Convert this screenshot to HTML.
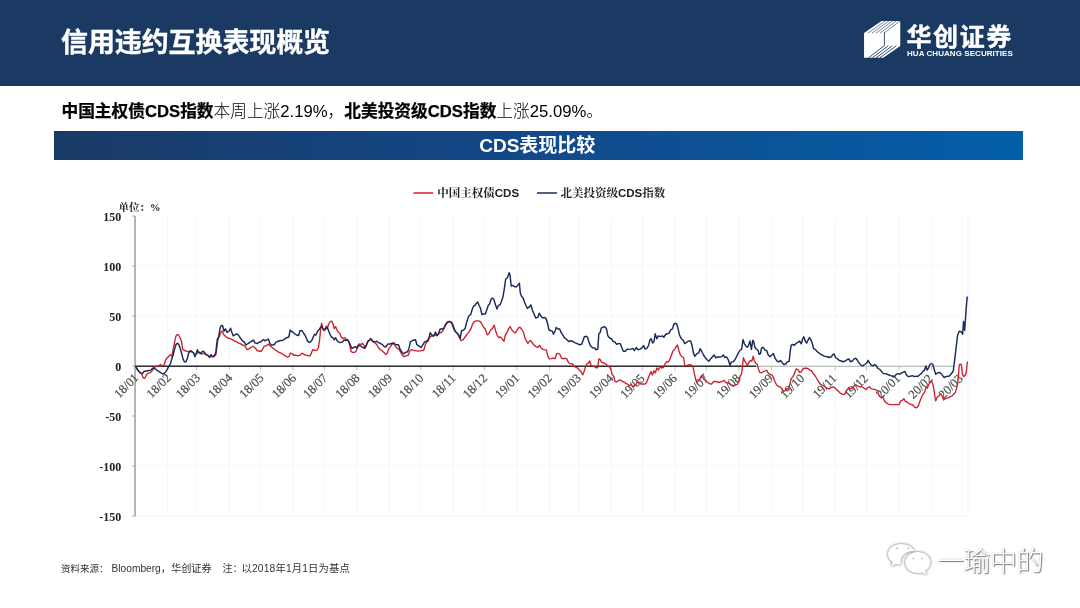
<!DOCTYPE html>
<html lang="zh-CN">
<head>
<meta charset="utf-8">
<title>信用违约互换表现概览</title>
<style>
html,body{margin:0;padding:0;background:#fff;}
body{width:1080px;height:608px;position:relative;overflow:hidden;font-family:"Liberation Sans","Noto Sans CJK SC",sans-serif;}
.hdr{position:absolute;left:0;top:0;width:1080px;height:86px;background:#1a3963;}
.title{position:absolute;left:61px;top:23.5px;font-size:27px;line-height:38px;font-weight:bold;color:#fff;letter-spacing:-0.1px;-webkit-text-stroke:0.35px #fff;white-space:nowrap;}
.logo-cn{position:absolute;left:906.5px;top:19.6px;font-size:25px;line-height:34px;font-weight:bold;color:#fff;white-space:nowrap;letter-spacing:1.6px;-webkit-text-stroke:0.4px #fff;}
.logo-en{position:absolute;left:907px;top:48.5px;font-size:8px;line-height:10px;font-weight:bold;color:#fff;white-space:nowrap;letter-spacing:0.06px;}
.sum{position:absolute;left:61.5px;top:99.5px;font-size:16.7px;line-height:24px;color:#111;white-space:nowrap;letter-spacing:0px;}
.sum b{font-weight:bold;color:#000;-webkit-text-stroke:0.25px #000;}
.sum span{font-weight:300;color:#000;}
.band{position:absolute;left:54px;top:130.7px;width:968.5px;height:29.3px;background:linear-gradient(90deg,#1a3a66 0%,#12498a 50%,#035fa9 100%);}
.band div{position:absolute;left:-2px;right:0;top:2px;text-align:center;font-size:19px;line-height:25px;font-weight:bold;color:#fff;letter-spacing:0;}
.chart{position:absolute;left:0;top:0;}
.xl{font-family:"Liberation Serif","Noto Serif CJK SC",serif;font-size:12.5px;fill:#4a4a4a;stroke:#4a4a4a;stroke-width:0.2px;}
.yl{font-family:"Liberation Serif","Noto Serif CJK SC",serif;font-size:12px;font-weight:bold;fill:#222;}
.lg{font-family:"Liberation Sans","Noto Serif CJK SC",serif;font-size:11.5px;font-weight:bold;fill:#222;}
.unit{font-family:"Liberation Serif","Noto Serif CJK SC",serif;font-size:10.5px;font-weight:bold;fill:#222;}
.src{position:absolute;left:61px;top:562px;font-size:9.5px;line-height:14px;color:#333;white-space:nowrap;}
.src span{position:absolute;top:0;}
.wm{position:absolute;left:937px;top:546px;font-size:27px;line-height:32px;color:#fff;white-space:nowrap;text-shadow:1px 1px 1px #777,0 0 2px #bbb;font-weight:300;letter-spacing:-0.5px;}
</style>
</head>
<body>
<div class="hdr"></div>
<div class="title">信用违约互换表现概览</div>
<div class="logo-cn">华创证券</div>
<div class="logo-en">HUA CHUANG SECURITIES</div>
<div class="sum"><b>中国主权债CDS指数</b><span>本周上涨2.19%，</span><b>北美投资级CDS指数</b><span>上涨25.09%。</span></div>
<div class="band"><div>CDS表现比较</div></div>
<svg class="chart" width="1080" height="608" viewBox="0 0 1080 608">
<polygon points="864.05,33.00 881.43,21.05 900.25,21.05 900.25,45.94 883.24,57.70 864.05,57.70" fill="#fff"/>
<line x1="868.03" y1="33.18" x2="885.19" y2="20.87" stroke="#4f668c" stroke-width="0.8"/>
<line x1="872.01" y1="33.18" x2="888.95" y2="20.87" stroke="#4f668c" stroke-width="0.8"/>
<line x1="876.00" y1="33.18" x2="892.72" y2="20.87" stroke="#4f668c" stroke-width="0.8"/>
<line x1="879.98" y1="33.18" x2="896.48" y2="20.87" stroke="#4f668c" stroke-width="0.8"/>
<line x1="883.96" y1="33.18" x2="900.25" y2="20.87" stroke="#4f668c" stroke-width="0.8"/>
<line x1="884.14" y1="45.76" x2="868.57" y2="57.88" stroke="#1a3963" stroke-width="0.9"/>
<line x1="888.21" y1="45.76" x2="872.29" y2="57.88" stroke="#1a3963" stroke-width="0.9"/>
<line x1="892.29" y1="45.76" x2="876.00" y2="57.88" stroke="#1a3963" stroke-width="0.9"/>
<line x1="896.36" y1="45.76" x2="879.71" y2="57.88" stroke="#1a3963" stroke-width="0.9"/>
<line x1="884.41" y1="32.36" x2="884.41" y2="45.67" stroke="#16243f" stroke-width="0.8"/>
<line x1="167.4" y1="216" x2="167.4" y2="516" stroke="#f8f5f8" stroke-width="1"/>
<line x1="196.7" y1="216" x2="196.7" y2="516" stroke="#f8f5f8" stroke-width="1"/>
<line x1="229.2" y1="216" x2="229.2" y2="516" stroke="#f8f5f8" stroke-width="1"/>
<line x1="260.6" y1="216" x2="260.6" y2="516" stroke="#f8f5f8" stroke-width="1"/>
<line x1="293.0" y1="216" x2="293.0" y2="516" stroke="#f8f5f8" stroke-width="1"/>
<line x1="324.4" y1="216" x2="324.4" y2="516" stroke="#f8f5f8" stroke-width="1"/>
<line x1="356.9" y1="216" x2="356.9" y2="516" stroke="#f8f5f8" stroke-width="1"/>
<line x1="389.3" y1="216" x2="389.3" y2="516" stroke="#f8f5f8" stroke-width="1"/>
<line x1="420.7" y1="216" x2="420.7" y2="516" stroke="#f8f5f8" stroke-width="1"/>
<line x1="453.2" y1="216" x2="453.2" y2="516" stroke="#f8f5f8" stroke-width="1"/>
<line x1="484.6" y1="216" x2="484.6" y2="516" stroke="#f8f5f8" stroke-width="1"/>
<line x1="517.0" y1="216" x2="517.0" y2="516" stroke="#f8f5f8" stroke-width="1"/>
<line x1="549.5" y1="216" x2="549.5" y2="516" stroke="#f8f5f8" stroke-width="1"/>
<line x1="578.8" y1="216" x2="578.8" y2="516" stroke="#f8f5f8" stroke-width="1"/>
<line x1="611.2" y1="216" x2="611.2" y2="516" stroke="#f8f5f8" stroke-width="1"/>
<line x1="642.6" y1="216" x2="642.6" y2="516" stroke="#f8f5f8" stroke-width="1"/>
<line x1="675.0" y1="216" x2="675.0" y2="516" stroke="#f8f5f8" stroke-width="1"/>
<line x1="706.4" y1="216" x2="706.4" y2="516" stroke="#f8f5f8" stroke-width="1"/>
<line x1="738.9" y1="216" x2="738.9" y2="516" stroke="#f8f5f8" stroke-width="1"/>
<line x1="771.3" y1="216" x2="771.3" y2="516" stroke="#f8f5f8" stroke-width="1"/>
<line x1="802.7" y1="216" x2="802.7" y2="516" stroke="#f8f5f8" stroke-width="1"/>
<line x1="835.2" y1="216" x2="835.2" y2="516" stroke="#f8f5f8" stroke-width="1"/>
<line x1="866.6" y1="216" x2="866.6" y2="516" stroke="#f8f5f8" stroke-width="1"/>
<line x1="899.0" y1="216" x2="899.0" y2="516" stroke="#f8f5f8" stroke-width="1"/>
<line x1="931.5" y1="216" x2="931.5" y2="516" stroke="#f8f5f8" stroke-width="1"/>
<line x1="961.8" y1="216" x2="961.8" y2="516" stroke="#f8f5f8" stroke-width="1"/>
<line x1="968" y1="216" x2="968" y2="516" stroke="#f4f0f4" stroke-width="1"/>
<line x1="135" y1="216" x2="968" y2="216" stroke="#f9f6f9" stroke-width="1"/>
<line x1="135" y1="266" x2="968" y2="266" stroke="#f9f6f9" stroke-width="1"/>
<line x1="135" y1="316" x2="968" y2="316" stroke="#f9f6f9" stroke-width="1"/>
<line x1="135" y1="366" x2="968" y2="366" stroke="#f9f6f9" stroke-width="1"/>
<line x1="135" y1="416" x2="968" y2="416" stroke="#f9f6f9" stroke-width="1"/>
<line x1="135" y1="466" x2="968" y2="466" stroke="#f9f6f9" stroke-width="1"/>
<line x1="135" y1="516" x2="968" y2="516" stroke="#f9f6f9" stroke-width="1"/>
<line x1="135" y1="516.5" x2="968" y2="516.5" stroke="#fcf3fb" stroke-width="1.5"/>
<line x1="135.05" y1="216" x2="135.05" y2="516" stroke="#8f8f8f" stroke-width="1.3"/>
<line x1="132.3" y1="216" x2="135" y2="216" stroke="#a0a0a0" stroke-width="1"/>
<line x1="132.3" y1="266" x2="135" y2="266" stroke="#a0a0a0" stroke-width="1"/>
<line x1="132.3" y1="316" x2="135" y2="316" stroke="#a0a0a0" stroke-width="1"/>
<line x1="132.3" y1="366" x2="135" y2="366" stroke="#a0a0a0" stroke-width="1"/>
<line x1="132.3" y1="416" x2="135" y2="416" stroke="#a0a0a0" stroke-width="1"/>
<line x1="132.3" y1="466" x2="135" y2="466" stroke="#a0a0a0" stroke-width="1"/>
<line x1="132.3" y1="516" x2="135" y2="516" stroke="#a0a0a0" stroke-width="1"/>
<line x1="135" y1="366.3" x2="954" y2="366.3" stroke="#bdbdbd" stroke-width="1.2"/>
<line x1="135.0" y1="366" x2="135.0" y2="370" stroke="#bdbdbd" stroke-width="1"/>
<line x1="167.4" y1="366" x2="167.4" y2="370" stroke="#bdbdbd" stroke-width="1"/>
<line x1="196.7" y1="366" x2="196.7" y2="370" stroke="#bdbdbd" stroke-width="1"/>
<line x1="229.2" y1="366" x2="229.2" y2="370" stroke="#bdbdbd" stroke-width="1"/>
<line x1="260.6" y1="366" x2="260.6" y2="370" stroke="#bdbdbd" stroke-width="1"/>
<line x1="293.0" y1="366" x2="293.0" y2="370" stroke="#bdbdbd" stroke-width="1"/>
<line x1="324.4" y1="366" x2="324.4" y2="370" stroke="#bdbdbd" stroke-width="1"/>
<line x1="356.9" y1="366" x2="356.9" y2="370" stroke="#bdbdbd" stroke-width="1"/>
<line x1="389.3" y1="366" x2="389.3" y2="370" stroke="#bdbdbd" stroke-width="1"/>
<line x1="420.7" y1="366" x2="420.7" y2="370" stroke="#bdbdbd" stroke-width="1"/>
<line x1="453.2" y1="366" x2="453.2" y2="370" stroke="#bdbdbd" stroke-width="1"/>
<line x1="484.6" y1="366" x2="484.6" y2="370" stroke="#bdbdbd" stroke-width="1"/>
<line x1="517.0" y1="366" x2="517.0" y2="370" stroke="#bdbdbd" stroke-width="1"/>
<line x1="549.5" y1="366" x2="549.5" y2="370" stroke="#bdbdbd" stroke-width="1"/>
<line x1="578.8" y1="366" x2="578.8" y2="370" stroke="#bdbdbd" stroke-width="1"/>
<line x1="611.2" y1="366" x2="611.2" y2="370" stroke="#bdbdbd" stroke-width="1"/>
<line x1="642.6" y1="366" x2="642.6" y2="370" stroke="#bdbdbd" stroke-width="1"/>
<line x1="675.0" y1="366" x2="675.0" y2="370" stroke="#bdbdbd" stroke-width="1"/>
<line x1="706.4" y1="366" x2="706.4" y2="370" stroke="#bdbdbd" stroke-width="1"/>
<line x1="738.9" y1="366" x2="738.9" y2="370" stroke="#bdbdbd" stroke-width="1"/>
<line x1="771.3" y1="366" x2="771.3" y2="370" stroke="#bdbdbd" stroke-width="1"/>
<line x1="802.7" y1="366" x2="802.7" y2="370" stroke="#bdbdbd" stroke-width="1"/>
<line x1="835.2" y1="366" x2="835.2" y2="370" stroke="#bdbdbd" stroke-width="1"/>
<line x1="866.6" y1="366" x2="866.6" y2="370" stroke="#bdbdbd" stroke-width="1"/>
<line x1="899.0" y1="366" x2="899.0" y2="370" stroke="#bdbdbd" stroke-width="1"/>
<line x1="931.5" y1="366" x2="931.5" y2="370" stroke="#bdbdbd" stroke-width="1"/>
<line x1="961.8" y1="366" x2="961.8" y2="370" stroke="#bdbdbd" stroke-width="1"/>
<line x1="135" y1="366.2" x2="756" y2="366.2" stroke="#2e2e2e" stroke-width="1.5"/>
<text class="xl" transform="translate(139.3,378.5) rotate(-45)" text-anchor="end">18/01</text>
<text class="xl" transform="translate(171.7,378.5) rotate(-45)" text-anchor="end">18/02</text>
<text class="xl" transform="translate(200.9,378.6) rotate(-45)" text-anchor="end">18/03</text>
<text class="xl" transform="translate(233.2,378.6) rotate(-45)" text-anchor="end">18/04</text>
<text class="xl" transform="translate(264.5,378.6) rotate(-45)" text-anchor="end">18/05</text>
<text class="xl" transform="translate(296.9,378.7) rotate(-45)" text-anchor="end">18/06</text>
<text class="xl" transform="translate(328.2,378.7) rotate(-45)" text-anchor="end">18/07</text>
<text class="xl" transform="translate(360.5,378.7) rotate(-45)" text-anchor="end">18/08</text>
<text class="xl" transform="translate(392.9,378.7) rotate(-45)" text-anchor="end">18/09</text>
<text class="xl" transform="translate(424.2,378.8) rotate(-45)" text-anchor="end">18/10</text>
<text class="xl" transform="translate(456.5,378.8) rotate(-45)" text-anchor="end">18/11</text>
<text class="xl" transform="translate(487.9,378.8) rotate(-45)" text-anchor="end">18/12</text>
<text class="xl" transform="translate(520.2,378.9) rotate(-45)" text-anchor="end">19/01</text>
<text class="xl" transform="translate(552.6,378.9) rotate(-45)" text-anchor="end">19/02</text>
<text class="xl" transform="translate(581.8,378.9) rotate(-45)" text-anchor="end">19/03</text>
<text class="xl" transform="translate(614.1,379.0) rotate(-45)" text-anchor="end">19/04</text>
<text class="xl" transform="translate(645.4,379.0) rotate(-45)" text-anchor="end">19/05</text>
<text class="xl" transform="translate(677.8,379.0) rotate(-45)" text-anchor="end">19/06</text>
<text class="xl" transform="translate(709.1,379.1) rotate(-45)" text-anchor="end">19/07</text>
<text class="xl" transform="translate(741.4,379.1) rotate(-45)" text-anchor="end">19/08</text>
<text class="xl" transform="translate(773.8,379.1) rotate(-45)" text-anchor="end">19/09</text>
<text class="xl" transform="translate(805.1,379.1) rotate(-45)" text-anchor="end">19/10</text>
<text class="xl" transform="translate(837.5,379.2) rotate(-45)" text-anchor="end">19/11</text>
<text class="xl" transform="translate(868.8,379.2) rotate(-45)" text-anchor="end">19/12</text>
<text class="xl" transform="translate(901.1,379.2) rotate(-45)" text-anchor="end">20/01</text>
<text class="xl" transform="translate(933.5,379.3) rotate(-45)" text-anchor="end">20/02</text>
<text class="xl" transform="translate(963.7,379.3) rotate(-45)" text-anchor="end">20/03</text>
<text class="yl" x="121.2" y="220.8" text-anchor="end">150</text>
<text class="yl" x="121.2" y="270.8" text-anchor="end">100</text>
<text class="yl" x="121.2" y="320.8" text-anchor="end">50</text>
<text class="yl" x="121.2" y="370.8" text-anchor="end">0</text>
<text class="yl" x="121.2" y="420.8" text-anchor="end">-50</text>
<text class="yl" x="121.2" y="470.8" text-anchor="end">-100</text>
<text class="yl" x="121.2" y="520.8" text-anchor="end">-150</text>
<path d="M135.5 366.2 L137.6 370.1 L139.7 372.2 L141.8 374.3 L143.2 377.8 L144.6 378.5 L146.0 375.7 L147.4 373.6 L149.5 372.9 L151.6 371.5 L153.0 369.4 L154.4 367.3 L156.5 366.2 L158.6 365.9 L160.6 364.5 L162.0 365.9 L164.1 365.2 L165.5 360.3 L166.9 358.2 L169.0 356.1 L170.4 354.7 L171.8 356.1 L173.2 349.1 L174.6 342.2 L176.0 335.9 L177.4 334.5 L178.8 335.2 L180.2 338.0 L181.6 341.5 L182.6 349.1 L184.4 350.5 L186.5 351.2 L188.6 351.9 L190.7 350.5 L192.8 352.6 L194.9 354.7 L197.0 353.3 L199.1 351.9 L201.2 354.0 L203.3 353.3 L205.4 354.0 L207.5 355.4 L209.6 356.8 L211.7 356.1 L213.8 356.8 L215.9 354.7 L217.0 346.3 L218.0 339.4 L219.4 335.9 L220.8 332.4 L222.2 331.0 L223.6 334.5 L225.7 336.6 L227.8 338.0 L229.9 338.7 L231.9 339.4 L234.0 340.8 L236.1 341.5 L238.2 342.9 L240.3 343.6 L242.4 345.0 L244.5 345.6 L245.9 347.7 L247.3 349.8 L249.4 348.4 L251.5 347.0 L252.9 346.3 L255.0 347.7 L257.1 350.5 L259.2 351.2 L261.3 351.2 L262.7 349.1 L264.1 346.3 L266.2 345.6 L268.3 344.3 L270.4 346.3 L272.5 347.7 L274.8 349.6 L276.9 351.0 L279.0 352.4 L281.1 353.1 L283.2 354.5 L285.3 355.9 L287.4 357.0 L289.0 356.6 L290.4 353.1 L292.3 353.8 L293.7 355.2 L295.8 355.2 L297.9 355.9 L300.0 355.2 L302.0 353.1 L304.1 354.5 L306.2 355.2 L308.3 355.9 L310.0 355.9 L311.4 353.1 L312.8 349.6 L314.6 350.3 L316.7 350.3 L318.4 348.2 L319.5 340.5 L320.6 330.1 L321.6 323.1 L322.6 328.0 L323.7 330.8 L325.1 330.1 L326.2 325.9 L327.2 328.7 L328.6 324.5 L330.0 321.7 L331.8 321.2 L333.2 324.5 L334.2 328.7 L335.6 326.6 L337.0 330.1 L338.4 332.2 L339.8 333.6 L341.2 337.0 L342.6 338.4 L344.7 337.7 L346.1 339.1 L348.2 340.5 L349.6 344.7 L351.0 351.0 L352.4 352.4 L354.5 352.4 L356.2 351.0 L357.5 346.1 L358.9 344.0 L360.8 344.7 L362.2 343.3 L363.6 344.7 L365.0 347.5 L366.4 345.4 L367.8 341.9 L369.2 340.5 L370.6 338.4 L371.9 340.5 L373.3 341.9 L375.4 343.3 L376.8 344.7 L378.2 347.5 L380.3 349.6 L382.4 351.0 L384.5 353.1 L385.9 354.5 L387.3 353.1 L388.7 348.9 L390.8 346.1 L392.5 343.3 L393.9 342.6 L395.3 346.1 L397.1 348.2 L399.2 349.6 L400.9 352.4 L402.3 355.2 L404.1 356.6 L406.2 355.9 L408.3 355.2 L409.7 351.0 L411.8 349.6 L413.5 350.3 L417.6 351.1 L421.8 350.6 L423.9 350.0 L425.3 344.7 L426.7 341.9 L428.1 341.2 L429.5 337.7 L430.9 336.3 L432.3 335.6 L434.4 334.9 L436.5 335.6 L437.9 334.2 L439.3 332.1 L441.1 332.8 L442.7 330.7 L444.1 327.9 L445.5 324.4 L446.9 322.3 L449.0 321.3 L451.1 321.6 L453.2 325.1 L454.6 329.3 L456.0 332.1 L457.8 334.2 L459.5 337.7 L460.9 340.5 L463.0 339.8 L465.1 337.0 L467.2 334.2 L469.3 331.4 L471.0 328.6 L472.4 324.4 L474.2 321.6 L476.3 320.9 L478.4 320.9 L480.5 321.6 L481.9 324.4 L483.6 327.2 L485.4 329.3 L487.2 334.9 L488.9 333.5 L490.6 330.0 L492.4 328.6 L494.2 325.1 L495.6 330.7 L497.3 335.6 L498.9 337.7 L500.8 337.0 L502.2 339.1 L504.0 341.2 L505.4 334.9 L507.1 332.1 L508.7 328.6 L510.1 326.5 L511.9 330.0 L513.8 332.1 L515.4 332.8 L516.8 330.7 L518.5 327.9 L519.9 327.2 L521.7 329.3 L523.6 332.8 L524.9 337.7 L526.6 341.2 L528.0 343.3 L529.4 341.2 L530.8 340.5 L532.5 343.3 L534.3 345.4 L536.1 346.8 L537.8 347.5 L539.5 345.4 L541.3 348.2 L543.4 349.6 L545.0 349.8 L546.4 349.8 L547.8 356.1 L549.2 358.9 L551.3 358.7 L553.4 358.2 L555.1 358.7 L556.5 354.0 L558.3 353.3 L559.7 354.0 L561.5 358.2 L563.2 358.9 L564.9 358.2 L566.7 358.9 L568.5 362.4 L570.2 363.8 L572.3 363.8 L574.1 365.9 L575.8 367.3 L577.4 368.0 L579.3 370.1 L581.1 371.5 L582.7 375.0 L584.1 371.5 L585.5 366.6 L586.9 363.8 L588.3 363.1 L589.7 361.0 L590.9 365.2 L592.5 365.9 L594.6 366.6 L596.4 368.0 L597.8 367.3 L598.8 358.9 L600.2 359.6 L601.6 362.4 L603.7 362.8 L605.4 363.8 L607.2 365.2 L609.0 366.6 L610.7 368.7 L612.1 374.3 L613.8 376.4 L614.9 381.3 L616.6 382.0 L618.4 380.6 L620.5 379.9 L622.2 381.3 L624.0 382.0 L625.8 383.4 L627.5 384.1 L628.9 385.5 L630.6 384.8 L632.4 386.2 L634.5 386.2 L636.2 384.1 L637.5 381.3 L639.4 382.7 L641.2 384.1 L642.9 383.8 L645.0 384.1 L646.4 382.7 L647.8 379.2 L649.2 375.7 L651.0 371.5 L652.4 375.0 L654.0 370.8 L655.4 372.9 L656.8 368.0 L658.5 370.1 L659.9 366.6 L661.7 368.0 L663.6 367.3 L665.2 363.8 L666.6 361.7 L668.3 362.0 L670.1 358.9 L671.5 354.7 L672.9 351.2 L674.7 349.1 L676.4 346.3 L677.5 345.0 L678.9 350.5 L680.3 354.7 L682.0 356.8 L683.7 357.5 L684.8 365.9 L687.1 365.4 L689.2 364.7 L691.3 365.0 L693.1 366.8 L694.5 374.5 L695.9 380.1 L697.3 382.2 L699.0 380.1 L700.7 378.0 L702.5 375.9 L703.9 379.4 L705.7 380.4 L707.4 382.2 L709.5 383.6 L711.6 384.0 L713.7 381.5 L715.8 381.5 L717.9 382.2 L720.0 382.2 L722.0 381.5 L723.9 380.4 L725.5 382.2 L727.6 382.9 L729.5 383.6 L731.1 385.0 L733.2 385.7 L735.3 385.0 L737.4 384.3 L738.8 381.5 L740.2 375.9 L741.6 373.8 L742.6 364.7 L743.4 357.7 L744.8 361.2 L746.2 363.3 L747.6 365.4 L749.0 361.9 L750.4 360.5 L751.8 361.2 L753.2 356.3 L754.2 360.5 L755.6 363.3 L757.0 364.0 L758.4 368.9 L759.8 372.4 L761.6 372.8 L763.3 371.7 L765.0 371.0 L766.8 370.3 L768.2 373.1 L770.0 374.5 L772.0 374.8 L773.4 377.3 L774.8 381.5 L776.6 385.0 L778.4 386.4 L780.1 387.1 L781.7 388.5 L783.6 391.3 L785.4 390.6 L787.1 388.5 L788.5 389.2 L789.9 384.3 L791.2 378.7 L792.9 376.6 L794.7 373.1 L796.1 368.9 L798.0 369.6 L799.6 372.4 L801.3 371.7 L803.1 368.9 L804.9 368.2 L806.6 368.2 L808.3 368.9 L810.1 370.3 L811.5 370.6 L812.9 373.1 L814.7 375.2 L816.4 378.0 L818.1 380.8 L819.9 383.6 L821.7 385.0 L823.4 385.7 L827.1 388.2 L829.2 388.9 L831.3 387.5 L833.1 386.8 L834.8 387.5 L836.5 389.6 L838.3 391.0 L840.1 393.1 L842.1 394.2 L843.9 394.5 L845.7 393.1 L847.1 389.6 L848.8 387.5 L850.4 388.9 L852.3 388.2 L854.1 386.1 L855.8 384.7 L857.9 386.1 L860.0 386.8 L862.0 386.8 L864.1 388.2 L866.2 389.6 L868.1 387.5 L869.7 386.8 L871.4 388.9 L873.2 389.2 L875.3 389.6 L877.0 390.3 L878.4 393.8 L879.8 396.6 L881.6 397.3 L883.0 396.6 L884.4 400.8 L886.5 402.9 L888.6 404.3 L890.7 404.6 L893.5 404.6 L896.3 404.6 L899.1 404.6 L900.8 400.8 L902.6 400.1 L904.0 398.7 L905.4 401.5 L907.2 402.2 L908.9 403.6 L911.0 404.3 L912.8 405.0 L914.5 407.1 L916.6 407.8 L918.4 405.7 L919.8 401.5 L921.5 397.3 L922.9 394.5 L924.5 392.4 L925.9 387.5 L927.3 388.2 L928.7 384.7 L930.1 382.6 L931.5 381.2 L932.6 383.3 L933.8 388.9 L934.7 395.2 L935.7 400.8 L937.1 397.3 L938.9 395.9 L940.8 393.8 L942.4 396.6 L943.6 400.1 L945.2 398.7 L946.9 398.0 L948.7 397.6 L950.5 396.6 L952.2 395.9 L953.9 393.8 L955.3 392.4 L956.4 388.9 L957.5 384.7 L958.5 375.0 L959.2 365.2 L960.3 364.0 L961.3 364.5 L962.3 373.6 L963.4 376.6 L964.8 375.6 L966.2 372.9 L967.3 362.4 L967.9 361.7" fill="none" stroke="#cf1f2b" stroke-width="1.35" stroke-linejoin="round"/>
<path d="M135.5 366.2 L138.3 370.8 L140.4 372.9 L142.5 373.6 L143.9 371.5 L147.4 370.8 L150.9 370.1 L153.0 368.0 L155.1 368.7 L157.2 370.4 L160.0 372.2 L162.7 374.0 L164.8 372.9 L166.9 370.1 L169.0 365.9 L170.4 363.8 L171.8 358.9 L173.2 354.7 L174.6 349.1 L176.0 344.3 L177.4 343.3 L178.8 344.3 L180.2 348.4 L181.6 353.3 L183.0 358.9 L184.4 361.7 L185.8 362.0 L187.2 358.9 L188.6 353.3 L190.0 351.2 L192.1 351.9 L193.5 352.6 L194.9 356.8 L196.3 353.3 L197.4 349.8 L198.4 352.6 L200.5 353.3 L201.9 351.9 L203.3 351.2 L204.7 352.6 L206.1 354.7 L208.2 355.4 L209.6 357.5 L211.0 354.7 L212.4 356.8 L214.5 355.4 L215.9 351.9 L216.6 345.0 L217.3 339.4 L218.7 336.6 L220.1 328.2 L221.2 325.4 L222.6 325.7 L224.0 331.0 L225.4 328.9 L227.1 332.4 L229.2 331.0 L230.6 328.2 L231.9 332.4 L233.3 335.9 L235.4 334.5 L236.8 333.8 L238.5 335.2 L240.3 338.0 L242.4 340.8 L244.5 342.2 L245.9 345.0 L248.0 343.6 L250.1 342.2 L252.2 340.8 L253.6 340.1 L255.0 342.9 L257.1 343.6 L259.2 342.2 L261.3 341.5 L263.4 339.4 L264.8 340.8 L266.2 340.1 L268.3 339.1 L269.7 342.9 L271.1 345.0 L273.2 345.0 L274.1 344.7 L276.2 341.9 L278.3 341.2 L280.4 340.5 L282.5 340.5 L284.6 339.1 L286.7 337.7 L288.8 337.0 L290.2 330.1 L291.6 331.5 L293.0 332.2 L294.4 333.6 L296.5 335.0 L298.6 335.6 L300.0 330.8 L302.0 330.5 L303.4 332.9 L304.8 335.0 L306.2 337.7 L307.6 341.2 L309.7 342.6 L311.8 340.5 L313.2 337.0 L314.6 334.3 L316.0 335.0 L317.4 331.5 L318.8 330.1 L320.2 328.0 L321.6 325.9 L323.0 328.7 L324.4 329.4 L325.8 328.7 L327.2 327.3 L328.6 330.8 L330.0 334.3 L331.4 337.0 L332.8 337.7 L334.2 339.8 L335.6 337.7 L337.0 340.5 L338.4 341.9 L340.5 342.6 L342.6 341.9 L344.0 339.8 L345.4 340.5 L347.5 339.8 L348.9 341.9 L350.3 344.7 L351.7 348.2 L353.8 347.5 L355.9 346.8 L357.3 348.2 L358.7 345.4 L360.8 346.1 L362.9 347.5 L365.0 348.2 L366.4 344.7 L367.8 341.2 L369.9 339.8 L371.2 339.1 L372.6 341.2 L374.7 341.9 L376.8 341.2 L378.2 342.6 L380.3 343.3 L382.4 344.7 L384.5 346.8 L385.9 346.8 L388.0 344.0 L390.1 344.0 L392.2 343.3 L394.3 344.0 L396.4 344.7 L398.5 344.7 L399.9 348.9 L402.0 352.4 L403.4 353.8 L405.5 352.4 L407.6 351.7 L409.0 348.2 L410.4 341.9 L412.5 340.5 L415.5 339.8 L416.9 344.7 L419.0 346.1 L421.1 347.5 L422.5 345.4 L424.6 341.9 L426.7 341.2 L428.8 338.4 L430.2 332.8 L432.3 335.6 L433.7 336.3 L435.5 332.1 L436.9 335.6 L438.6 334.2 L440.0 329.3 L442.0 328.6 L443.4 329.3 L445.5 325.1 L447.6 322.3 L449.7 321.6 L451.8 323.0 L453.2 327.2 L454.6 330.7 L456.7 332.8 L458.8 334.9 L460.2 338.4 L461.6 330.7 L463.7 330.0 L465.1 328.6 L466.5 323.0 L467.9 318.1 L469.3 315.3 L470.7 314.6 L472.1 309.7 L473.5 306.2 L474.9 305.5 L476.3 303.4 L477.7 302.0 L479.1 305.5 L480.5 308.3 L481.9 314.6 L483.3 313.9 L485.4 313.9 L486.8 309.7 L488.2 305.5 L489.6 304.1 L491.0 299.3 L492.4 297.9 L493.8 299.3 L495.2 304.1 L497.0 309.0 L498.4 305.5 L500.1 304.8 L501.5 301.3 L502.9 297.2 L504.3 288.8 L505.7 279.0 L507.3 277.9 L509.2 272.7 L510.1 275.5 L511.2 286.0 L512.6 285.3 L514.7 286.7 L516.8 286.7 L518.2 284.6 L519.4 283.2 L520.3 293.0 L521.7 296.5 L523.1 297.9 L524.5 302.0 L525.9 305.5 L527.3 308.3 L529.4 306.9 L530.8 304.8 L532.2 309.7 L534.3 314.6 L535.7 318.1 L537.8 317.4 L539.2 313.2 L540.9 316.0 L542.7 318.1 L544.8 317.4 L546.2 318.8 L547.6 323.7 L549.0 330.0 L551.1 330.7 L552.5 331.4 L553.5 334.2 L555.1 331.0 L556.2 327.5 L557.9 328.9 L559.7 328.9 L561.1 332.4 L562.9 335.2 L564.6 338.0 L566.7 339.4 L568.8 341.5 L570.9 340.8 L573.0 341.5 L575.1 342.9 L577.2 343.6 L579.3 344.7 L581.6 344.3 L583.0 340.8 L584.4 336.6 L586.2 336.3 L587.6 337.3 L589.0 342.2 L590.4 345.6 L592.5 347.7 L594.6 348.0 L596.0 349.8 L597.8 349.1 L598.8 333.8 L600.2 332.4 L601.2 328.2 L603.0 327.1 L605.1 326.8 L606.5 328.9 L607.9 335.9 L609.6 338.0 L611.4 338.7 L613.2 341.5 L614.9 341.9 L616.6 344.3 L618.4 343.6 L620.2 343.6 L621.6 347.0 L623.3 351.2 L625.4 351.2 L627.2 349.1 L628.9 349.4 L631.0 349.1 L632.8 348.4 L634.5 350.5 L636.2 347.5 L638.0 349.8 L640.1 349.1 L642.2 347.7 L643.6 345.6 L645.0 349.1 L646.8 348.4 L648.5 345.6 L649.9 340.1 L651.2 338.7 L652.6 342.9 L654.0 341.5 L655.2 333.8 L656.8 338.7 L658.5 335.9 L660.3 336.6 L662.2 335.9 L663.8 337.3 L665.5 334.5 L667.3 333.8 L669.1 333.1 L670.8 329.6 L672.5 328.9 L673.9 324.0 L675.3 323.3 L676.7 324.0 L678.1 328.9 L679.5 335.2 L681.3 338.7 L683.1 340.1 L684.8 343.6 L688.5 341.0 L690.6 341.0 L692.0 345.2 L693.4 352.9 L694.8 356.3 L696.9 353.6 L698.7 352.9 L700.1 348.7 L701.8 351.5 L703.5 355.0 L705.3 357.7 L707.1 359.8 L708.8 361.2 L710.4 359.1 L712.3 357.0 L714.1 355.0 L715.8 357.7 L717.9 357.0 L720.0 357.0 L722.0 356.6 L723.4 355.0 L724.8 357.5 L726.7 357.0 L728.3 359.8 L730.0 365.4 L731.4 361.9 L733.2 361.7 L735.0 359.8 L736.7 356.3 L738.4 352.9 L740.2 350.1 L741.6 349.4 L743.0 339.6 L744.4 343.8 L745.8 345.9 L747.2 347.3 L748.6 345.2 L750.0 341.0 L751.4 349.4 L752.8 340.3 L753.8 341.7 L754.9 347.3 L756.6 349.4 L758.0 350.1 L759.1 354.3 L760.5 353.6 L761.6 348.0 L763.3 347.3 L765.0 350.1 L766.8 350.8 L768.2 355.0 L770.0 356.6 L771.7 355.0 L773.4 353.6 L775.2 358.4 L777.0 361.2 L778.7 361.9 L780.3 360.5 L782.2 362.6 L784.0 364.7 L785.7 364.0 L787.3 361.9 L789.2 361.2 L790.1 352.2 L791.2 345.2 L792.9 344.5 L794.7 345.2 L796.1 343.1 L798.0 342.4 L799.6 341.0 L801.3 343.8 L802.7 338.9 L803.8 336.8 L805.2 341.0 L806.6 343.1 L808.0 340.3 L809.4 337.5 L810.8 339.6 L812.2 343.1 L813.6 348.7 L815.3 349.4 L817.1 351.5 L818.9 352.9 L820.6 354.3 L822.3 355.0 L824.1 356.1 L827.1 356.8 L829.2 357.5 L831.3 356.8 L832.7 354.7 L834.1 354.0 L835.5 357.5 L837.6 358.9 L839.0 360.3 L841.1 361.0 L843.2 361.7 L845.3 361.0 L847.1 359.6 L848.8 358.9 L850.4 361.7 L852.3 361.0 L854.1 358.9 L855.8 358.2 L857.4 360.3 L859.3 363.1 L861.1 365.2 L862.7 365.9 L864.8 364.5 L866.7 363.1 L868.1 360.3 L869.7 363.1 L871.4 365.2 L873.2 365.9 L874.6 364.5 L876.4 365.9 L878.1 368.7 L879.8 369.4 L881.6 371.5 L883.4 373.6 L885.1 373.6 L887.2 374.3 L889.0 375.0 L890.7 375.6 L892.8 376.3 L894.6 376.6 L896.3 374.3 L898.0 373.6 L899.8 374.3 L901.6 372.9 L903.3 372.2 L905.0 371.5 L906.4 375.0 L908.2 376.6 L910.3 376.3 L912.4 375.6 L914.2 376.6 L915.9 376.1 L917.5 376.6 L919.4 375.0 L921.2 373.6 L922.9 371.5 L924.5 370.1 L925.9 365.9 L927.1 370.1 L928.5 368.0 L929.9 364.5 L931.5 363.5 L932.9 364.5 L934.3 370.1 L935.7 374.3 L937.5 372.9 L939.4 372.4 L941.0 373.6 L942.7 375.6 L944.1 377.5 L945.9 376.6 L947.7 376.3 L949.4 376.1 L950.8 374.3 L952.5 372.2 L953.3 370.6 L954.8 358.9 L956.2 347.0 L957.6 335.2 L959.2 331.3 L961.1 331.7 L962.7 334.2 L963.5 321.4 L964.7 330.3 L966.1 309.6 L967.1 297.4 L968.0 296.8" fill="none" stroke="#1b2b59" stroke-width="1.45" stroke-linejoin="round"/>
<line x1="413.5" y1="193" x2="433.2" y2="193" stroke="#cf1f2b" stroke-width="1.5"/>
<text class="lg" x="437.3" y="197.2">中国主权债CDS</text>
<line x1="536.9" y1="193" x2="556.9" y2="193" stroke="#1b2b59" stroke-width="1.5"/>
<text class="lg" x="560.5" y="197.2">北美投资级CDS指数</text>
<g style="filter:drop-shadow(0.8px 0.8px 0.8px #808080) drop-shadow(0 0 1px #c8c8c8)">
<path d="M901 544c-7.2 0-13 4.6-13 10.300 0 3.200 1.700 6 4.500 7.900l-1.500 4.300 4.900-2.600c1.300 0.400 2.600 0.600 4 0.600 0.400 0 0.800 0 1.200-0.100-0.300-0.900-0.400-1.900-0.400-2.900 0-5.800 5.700-10.500 12.700-10.500 0.300 0 0.600 0 0.900 0.100-1.200-4.100-6.800-7.100-13.300-7.100z" fill="#fff"/>
<path d="M917.8 552c-7 0-12.700 4.700-12.700 10.500s5.700 10.500 12.700 10.500c1.500 0 2.900-0.200 4.200-0.600l4.600 2.600-1.300-4.300c3.100-1.900 5.200-4.900 5.200-8.200 0-5.800-5.700-10.500-12.700-10.500z" fill="#fff"/>
</g>
<circle cx="897" cy="548.3" r="1.2" fill="#d4d4d4"/><circle cx="908.5" cy="548.3" r="1.2" fill="#d4d4d4"/>
<circle cx="913.6" cy="558.5" r="1.2" fill="#d9d9d9"/><circle cx="922" cy="558.5" r="1.2" fill="#d9d9d9"/>

<text class="unit" x="118.5" y="211">单位：%</text>
</svg>
<div class="src"><span style="left:0">资料来源：</span><span style="left:50.5px;font-size:10.2px">Bloomberg，华创证券</span><span style="left:161.5px;font-size:10px">注：</span><span style="left:180.5px;font-size:10.3px;letter-spacing:0.15px">以2018年1月1日为基点</span></div>
<div class="wm">一瑜中的</div>
</body>
</html>
